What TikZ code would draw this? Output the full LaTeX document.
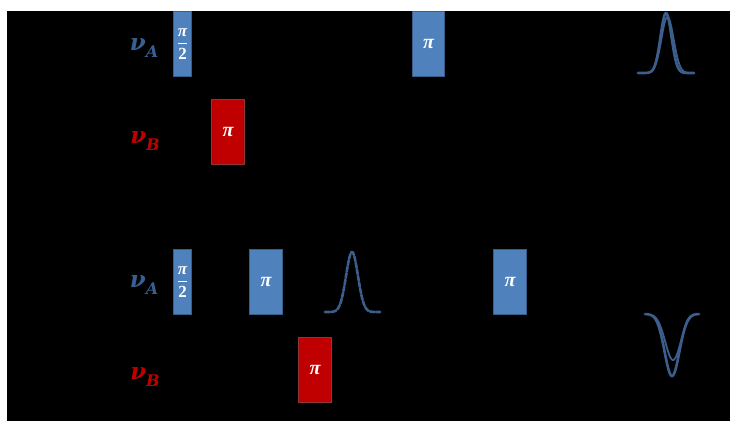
\documentclass[tikz,border=0pt]{standalone}
\usepackage{amsmath}
\usepackage{fontspec}
\newfontfamily\lib{Liberation Serif}
\newfontfamily\dvs{DejaVu Serif}
\newcommand{\gk}[1]{{\lib\bfseries\itshape #1}}
\newcommand{\lk}[1]{{\dvs\bfseries\itshape #1}}
\newcommand{\nusub}[1]{\lk{ν}\raisebox{-0.28em}{\fontsize{16}{16}\selectfont\lk{#1}}}
\definecolor{boxblue}{RGB}{79,129,189}
\definecolor{boxblueline}{RGB}{56,93,138}
\definecolor{boxred}{RGB}{192,0,0}
\definecolor{boxredline}{RGB}{140,56,54}
\definecolor{lblblue}{RGB}{55,96,146}
\definecolor{curveblue}{RGB}{59,94,140}
\tikzset{
  bluebox/.style={draw=boxblueline, fill=boxblue, line width=1.2pt, inner sep=0pt, anchor=north west, text=white, font=\fontsize{20}{22}\selectfont},
  redbox/.style={draw=boxredline, fill=boxred, line width=1.2pt, inner sep=0pt, anchor=north west, text=white, font=\fontsize{20}{22}\selectfont},
  lbl/.style={inner sep=0pt, font=\fontsize{23}{26}\selectfont},
  curve/.style={draw=curveblue, line width=2.6pt, line cap=round, line join=round}
}
\newcommand{\halfpi}{\fontsize{17}{17}\selectfont$\displaystyle\frac{\text{\gk{π}}}{\text{\lib\bfseries 2}}$}
\begin{document}
\begin{tikzpicture}[x=1pt,y=-1pt]
\fill[white] (0,0) rectangle (730,421);
\fill[black] (7,11) rectangle (730,421);
\useasboundingbox (0,0) rectangle (730,421);
% top sequence
\node[lbl, text=lblblue] (la1) at (144,48) {\nusub{A}};
\node[lbl, text=boxred] (lb1) at (145,141) {\nusub{B}};
\node[bluebox, minimum width=18pt, minimum height=65pt] (h1) at (173,11) {\halfpi};
\node[redbox, minimum width=33pt, minimum height=65pt] (r1) at (211,99) {\gk{π}};
\node[bluebox, minimum width=32pt, minimum height=65pt] (p1) at (412,11) {\gk{π}};
\draw[curve] plot[domain=-28:28, samples=90, smooth] ({666+\x},{73-60*exp(-(\x)^2/60)});
\draw[curve, line width=1.8pt] plot[domain=-20:20, samples=60, smooth] ({667.5+\x},{73-56*exp(-(\x)^2/75)});
% bottom sequence
\node[lbl, text=lblblue] (la2) at (144,285) {\nusub{A}};
\node[lbl, text=boxred] (lb2) at (145,377) {\nusub{B}};
\node[bluebox, minimum width=18pt, minimum height=65pt] (h2) at (173,249) {\halfpi};
\node[bluebox, minimum width=33pt, minimum height=65pt] (p2) at (249,249) {\gk{π}};
\node[redbox, minimum width=33pt, minimum height=65pt] (r2) at (298,337) {\gk{π}};
\node[bluebox, minimum width=33pt, minimum height=65pt] (p3) at (493,249) {\gk{π}};
\draw[curve, dash pattern=on 5pt off 1.5pt] plot[domain=-27:28, samples=90, smooth] ({352+\x},{312-60*exp(-(\x)^2/70)});
\draw[curve] plot[domain=-27:27, samples=90, smooth] ({672+\x},{314+62*exp(-(\x)^2/110)});
\draw[curve, line width=1.8pt] plot[domain=-20:20, samples=60, smooth] ({673+\x},{314+46*exp(-(\x)^2/120)});
\end{tikzpicture}
\end{document}
